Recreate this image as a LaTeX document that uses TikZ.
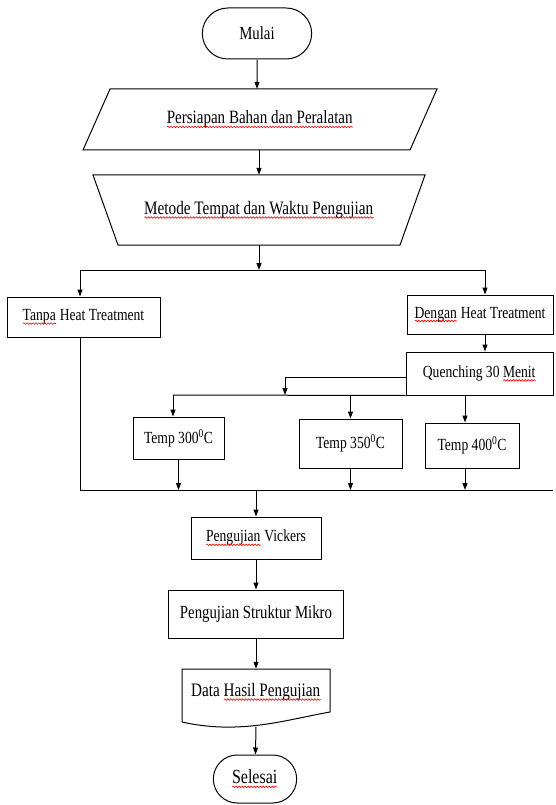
\documentclass[tikz,border=0pt]{standalone}
\usepackage{fontspec}
\setmainfont[FakeStretch=0.8]{Liberation Serif}
\usetikzlibrary{arrows.meta,shapes.misc,decorations.pathmorphing}

\newsavebox\wavebox
\newcommand\redwave[1]{\sbox\wavebox{#1}\rlap{\usebox\wavebox}%
  \tikz[baseline=3pt, x=1pt, y=1pt]\draw[red, line width=0.6pt, decorate,
    decoration={snake, amplitude=0.8pt, segment length=3pt}] (0,0) -- (\the\wd\wavebox,0);}
\newcommand\fs[1]{\fontsize{#1}{#1}\selectfont}

\tikzset{
  box/.style={draw, line width=1pt, inner sep=2pt},
  term/.style={draw, line width=1pt, rounded rectangle},
  flow/.style={line width=1pt, -{Triangle[length=7pt,width=5pt]}},
  lin/.style={line width=1pt},
}

\begin{document}
\begin{tikzpicture}[x=1pt, y=-1pt, font=\fs{17}]
  \useasboundingbox (0,0) rectangle (555,805);

  % Mulai
  \node[term, minimum width=116pt, minimum height=51pt, font=\fs{18.5}] (mulai) at (257,33.5) {Mulai};

  % Persiapan
  \draw[lin] (110,89) -- (437,89) -- (410,150) -- (83,150) -- cycle;
  \node[minimum height=61pt, font=\fs{18.8}] (pers) at (260,119.5) {\redwave{Persiapan Bahan dan Peralatan}};

  % Metode
  \draw[lin] (93,175) -- (425,175) -- (400,245) -- (118,245) -- cycle;
  \node[minimum height=70pt, font=\fs{19}] (metode) at (259,210) {\redwave{Metode Tempat dan Waktu Pengujian}};

  % cabang
  \node[box, minimum width=153pt, minimum height=40pt] (tanpa) at (83.5,317) {\redwave{Tanpa} Heat Treatment};
  \node[box, minimum width=146pt, minimum height=39pt] (dengan) at (480,314.5) {\redwave{Dengan} Heat Treatment};
  \node[box, minimum width=147pt, minimum height=43pt] (quench) at (479.5,373.5) {Quenching 30 \redwave{Menit}};

  % Temp
  \node[box, minimum width=91pt, minimum height=42pt] (t300) at (178.5,438) {Temp 300\textsuperscript{0}C};
  \node[box, minimum width=103pt, minimum height=49pt] (t350) at (350.5,443.5) {Temp 350\textsuperscript{0}C};
  \node[box, minimum width=94pt, minimum height=45pt] (t400) at (472,445.5) {Temp 400\textsuperscript{0}C};

  % Pengujian
  \node[box, minimum width=130pt, minimum height=42pt] (vick) at (256,538) {\redwave{Pengujian} Vickers};
  \node[box, minimum width=175pt, minimum height=48pt, font=\fs{18.5}] (struk) at (256,614) {Pengujian Struktur Mikro};

  % Data
  \draw[lin] (182,722) -- (182,669) -- (330,669) -- (330,712)
    .. controls (285,720) and (240,735) .. (182,722);
  \node[minimum width=148pt, minimum height=46pt, font=\fs{19}] (data) at (256,692) {Data \redwave{Hasil Pengujian}};
  \coordinate (dbot) at (256,727);

  % Selesai
  \node[term, minimum width=90pt, minimum height=48pt, font=\fs{20}] (selesai) at (255,779) {\redwave{Selesai}};

  % garis
  \coordinate (lt) at (80,270);
  \coordinate (rt) at (485,270);
  \coordinate (qb) at (285,395);
  \coordinate (ql) at (173,395);
  \coordinate (qr) at (465,395);
  \coordinate (cl) at (80,490);
  \coordinate (cr) at (553,490);

  \draw[flow] (mulai) -- (mulai |- pers.north);
  \draw[flow] (pers.south -| metode) -- (metode.north);
  \draw[flow] (metode.south) -- (metode.south |- lt);
  \draw[lin] (lt) -- (rt);
  \draw[flow] (lt) -- (lt |- tanpa.north);
  \draw[flow] (rt) -- (rt |- dengan.north);
  \draw[flow] (rt |- dengan.south) -- (rt |- quench.north);

  \draw[flow] ([yshift=-3.5pt]quench.west) -| (qb);
  \draw[lin] (ql) -- (quench.south west);
  \draw[flow] (ql) -- (ql |- t300.north);
  \draw[flow] (qb -| t350) -- (t350.north);
  \draw[flow] (qr) -- (qr |- t400.north);

  \draw[lin] (tanpa.south -| cl) -- (cl) -- (cr);
  \draw[flow] (t300.south) -- (t300 |- cl);
  \draw[flow] (t350.south) -- (t350 |- cl);
  \draw[flow] (t400.south -| qr) -- (qr |- cl);

  \draw[flow] (vick |- cl) -- (vick.north);
  \draw[flow] (vick) -- (struk);
  \draw[flow] (struk) -- (data.north);
  \draw[flow] (dbot) -- (selesai);
\end{tikzpicture}
\end{document}
